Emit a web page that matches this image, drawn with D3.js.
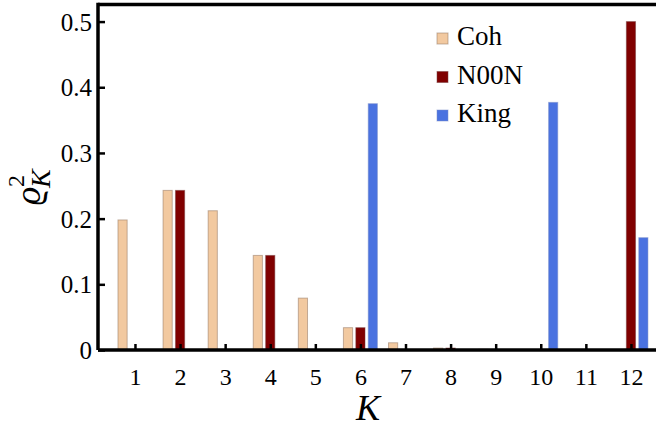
<!DOCTYPE html>
<html>
<head>
<meta charset="utf-8">
<script src="https://cdn.jsdelivr.net/npm/d3@7"></script>
<style>
  body { margin: 0; background: #fff; }
  svg { display: block; }
</style>
</head>
<body>
<svg id="chart" width="656" height="427"></svg>
<script>
// data
const ks = [1, 2, 3, 4, 5, 6, 7, 8, 9, 10, 11, 12];
const series = ['Coh', 'N00N', 'King'];
const coh  = [0.198, 0.243, 0.212, 0.144, 0.079, 0.034, 0.011, 0.003, 0.001, 0.0005, 0, 0];
const noon = [0, 0.243, 0, 0.144, 0, 0.034, 0, 0.003, 0, 0, 0, 0.500];
const king = [0, 0, 0, 0, 0, 0.375, 0, 0, 0, 0.377, 0, 0.171];
const yTicks = [0, 0.1, 0.2, 0.3, 0.4, 0.5];

const colors = { Coh: '#f2c9a0', N00N: '#800000', King: '#4a72e0' };
const edges = { Coh: 'rgba(150,120,100,0.55)', N00N: 'rgba(120,60,60,0.5)', King: 'rgba(120,140,200,0.5)' };
const serif = 'Liberation Serif';

const svg = d3.select('#chart');

// plot frame
const plotL = 98, plotT = 4.5, plotB = 350, plotR = 662;

const x = d3.scaleLinear().domain([0.18, 12.6]).range([plotL, 658]);
const y = d3.scaleLinear().domain([0, 0.526]).range([plotB, plotT]);
const off = d3.scaleBand().domain(series).range([-17, 17]).paddingInner(0.26);

// flatten into one row per bar
const rows = [];
ks.forEach((k, i) => {
    rows.push({ k, s: 'Coh', v: coh[i] });
    rows.push({ k, s: 'N00N', v: noon[i] });
    rows.push({ k, s: 'King', v: king[i] });
});

svg.append('g')
    .selectAll('rect')
    .data(rows)
    .enter()
    .append('rect')
    .attr('x', d => x(d.k) + off(d.s))
    .attr('width', off.bandwidth())
    .attr('y', d => y(d.v))
    .attr('height', d => y(0) - y(d.v))
    .attr('fill', d => colors[d.s])
    .attr('stroke', d => d.v > 0 ? edges[d.s] : 'rgba(150,150,150,0.7)')
    .attr('stroke-width', 1);

// frame: top line
svg.append('line')
    .attr('x1', plotL).attr('x2', plotR)
    .attr('y1', plotT).attr('y2', plotT)
    .attr('stroke', '#000').attr('stroke-width', 3.5);

// x axis
const xAxis = svg.append('g')
    .attr('transform', `translate(0,${plotB})`)
    .call(d3.axisBottom(x).tickValues(ks).tickSize(-6).tickPadding(12).tickFormat(d3.format('d')));
xAxis.attr('font-family', serif);
xAxis.select('.domain').attr('stroke-width', 3.5).attr('d', `M${plotL},0H${plotR}`);
xAxis.selectAll('.tick line').attr('stroke-width', 2.5);
xAxis.selectAll('.tick text')
    .attr('font-family', serif)
    .attr('font-size', 24).attr('fill', '#000')
    .attr('dy', '0.95em');

// y axis
const yAxis = svg.append('g')
    .attr('transform', `translate(${plotL},0)`)
    .call(d3.axisLeft(y).tickValues(yTicks).tickSize(-7).tickPadding(6)
        .tickFormat(d => d === 0 ? '0' : d3.format('.1f')(d)));
yAxis.attr('font-family', serif);
yAxis.select('.domain').attr('stroke-width', 3.5).attr('d', `M0,${plotB}V${plotT - 1.75}`);
yAxis.selectAll('.tick line').attr('stroke-width', 2.5);
yAxis.selectAll('.tick text')
    .attr('font-family', serif)
    .attr('font-size', 25).attr('fill', '#000')
    .attr('dy', '0.34em');

// axis titles
svg.append('text')
    .attr('x', 368).attr('y', 420)
    .attr('text-anchor', 'middle')
    .attr('font-family', serif)
    .attr('font-size', 36).attr('font-style', 'italic')
    .text('K');

const yl = svg.append('g')
    .attr('transform', 'translate(40,205) rotate(-90)');
yl.append('text').attr('x', 0).attr('y', 0)
    .attr('font-family', serif)
    .attr('font-size', 36).attr('font-style', 'italic').text('ϱ');
yl.append('text').attr('x', 18).attr('y', -16)
    .attr('font-family', serif)
    .attr('font-size', 24).text('2');
yl.append('text').attr('x', 17).attr('y', 10)
    .attr('font-family', serif)
    .attr('font-size', 28).attr('font-style', 'italic').text('K');

// legend
const legend = svg.append('g')
    .selectAll('g')
    .data(series)
    .enter()
    .append('g')
    .attr('transform', (d, i) => `translate(437,${45 + i * 38.5})`);
legend.append('rect')
    .attr('x', 0).attr('y', -12).attr('width', 11).attr('height', 11)
    .attr('fill', d => colors[d])
    .attr('stroke', d => edges[d]).attr('stroke-width', 1);
legend.append('text')
    .attr('x', 20).attr('y', 0)
    .attr('font-family', serif)
    .attr('font-size', 27)
    .text(d => d);
</script>
</body>
</html>
